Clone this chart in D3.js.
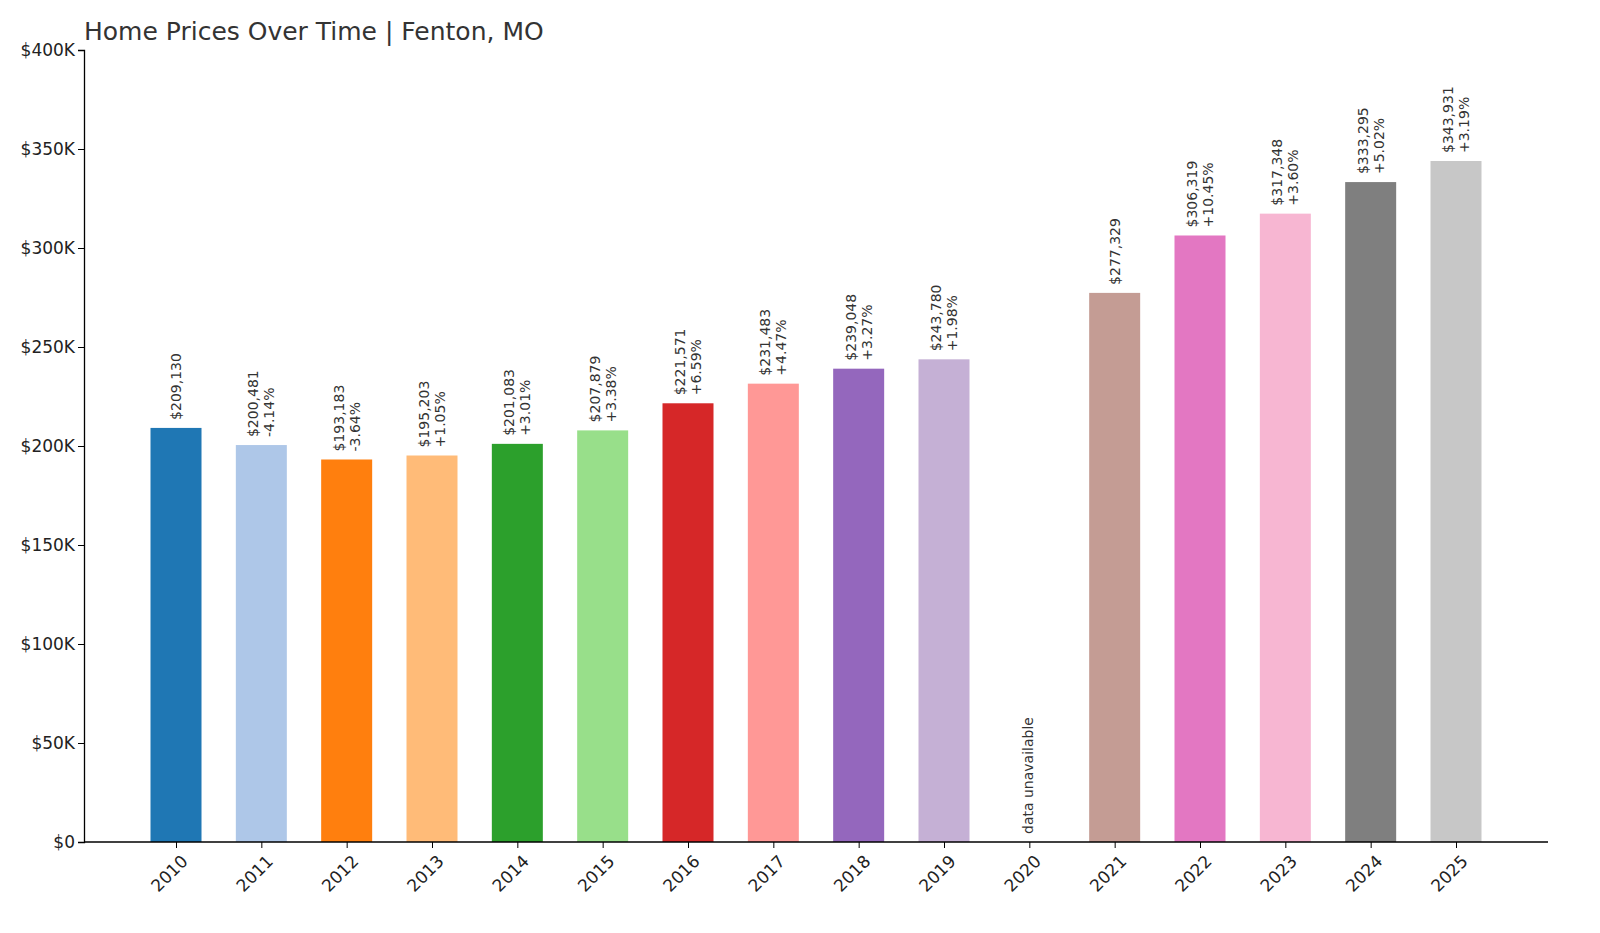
<!DOCTYPE html>
<html><head><meta charset="utf-8">
<script src="https://cdn.jsdelivr.net/npm/d3@7"></script>
<style>html,body{margin:0;overflow:hidden;background:#fff;font-family:"DejaVu Sans",sans-serif;}svg{display:block;}</style>
</head><body><div id="chart"></div>
<script>
const years = ["2010","2011","2012","2013","2014","2015","2016","2017","2018","2019","2020","2021","2022","2023","2024","2025"];
const prices = [209130,200481,193183,195203,201083,207879,221571,231483,239048,243780,null,277329,306319,317348,333295,343931];
const changes = [null,"-4.14%","-3.64%","+1.05%","+3.01%","+3.38%","+6.59%","+4.47%","+3.27%","+1.98%",null,null,"+10.45%","+3.60%","+5.02%","+3.19%"];
const colors = ["#1f77b4","#aec7e8","#ff7f0e","#ffbb78","#2ca02c","#98df8a","#d62728","#ff9896","#9467bd","#c5b0d5","#8c564b","#c49c94","#e377c2","#f7b6d2","#7f7f7f","#c7c7c7"];
const yTicks = [0,50000,100000,150000,200000,250000,300000,350000,400000];

const svg = d3.select("#chart").append("svg").attr("width",1600).attr("height",933);
const x = d3.scalePoint().domain(years).range([176,1456]);
const y = d3.scaleLinear().domain([0,400000]).range([842,50]);
const bw = 51;

svg.append("text").attr("x",84).attr("y",40).attr("font-size",25).attr("fill","#333")
  .text("Home Prices Over Time | Fenton, MO");

// bars
svg.append("g").selectAll("rect").data(years).join("rect")
  .filter((d,i) => prices[i] != null)
  .attr("x", d => x(d) - bw/2)
  .attr("y", (d) => y(prices[years.indexOf(d)]))
  .attr("width", bw)
  .attr("height", d => 842 - y(prices[years.indexOf(d)]))
  .attr("fill", d => colors[years.indexOf(d)]);

// labels
years.forEach((yr,i) => {
  const cx = x(yr);
  if (prices[i] == null) {
    svg.append("text").attr("transform",`translate(${cx+4},834) rotate(-90)`)
      .attr("font-size",14).attr("fill","#333").text("data unavailable");
    return;
  }
  const top = y(prices[i]) - 8;
  const lines = ["$" + d3.format(",")(prices[i])];
  if (changes[i]) lines.push(changes[i]);
  const t = svg.append("text").attr("transform",`translate(${cx},${top}) rotate(-90)`)
    .attr("font-size",14).attr("fill","#333");
  lines.forEach((l,j) => {
    t.append("tspan").attr("x",0).attr("dy", j === 0 ? (lines.length === 2 ? -3 : 5) : 16).text(l);
  });
});

// axes
const yAxis = svg.append("g").attr("transform","translate(84,0)")
  .call(d3.axisLeft(y).tickValues(yTicks).tickSize(6)
    .tickFormat(d => d === 0 ? "$0" : "$" + d/1000 + "K"));
yAxis.selectAll("text").attr("font-size",17).attr("fill","#222").attr("font-family","DejaVu Sans");
yAxis.select(".domain").attr("stroke","#000").attr("stroke-width",1.3);

const xAxis = svg.append("g").attr("transform","translate(0,842)")
  .call(d3.axisBottom(x).tickSize(6).tickSizeOuter(0));
xAxis.select(".domain").attr("d","M84,0H1548").attr("stroke","#000").attr("stroke-width",1.3);
xAxis.selectAll("text").attr("font-size",17).attr("fill","#222").attr("font-family","DejaVu Sans")
  .attr("text-anchor","end").attr("dy",0).attr("dx",0)
  .attr("transform","translate(6,14) rotate(-45)");
</script></body></html>
